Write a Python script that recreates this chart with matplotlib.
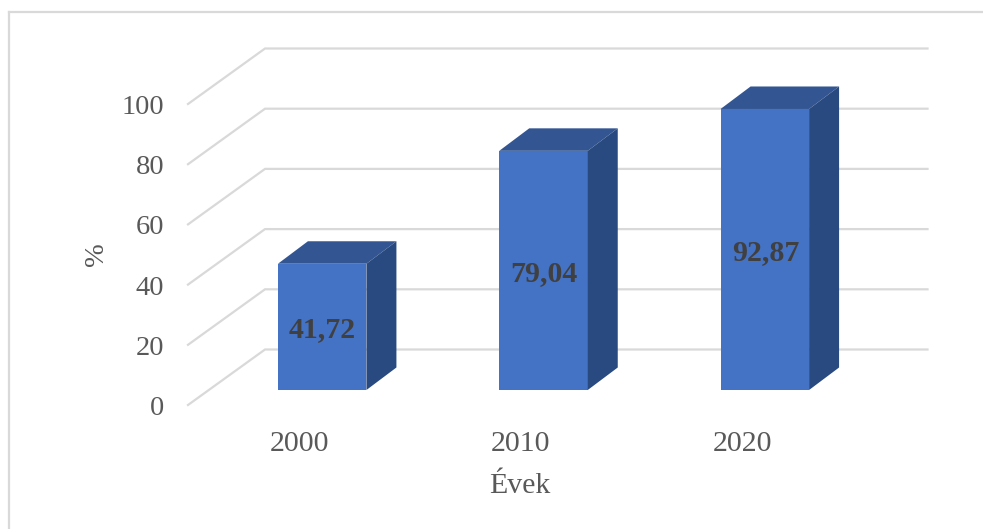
import matplotlib

matplotlib.use("Agg")
import matplotlib.pyplot as plt
from matplotlib.patches import Polygon, Rectangle
from matplotlib.transforms import ScaledTranslation

years = ["2000", "2010", "2020"]
values = [41.72, 79.04, 92.87]
value_labels = ["41,72", "79,04", "92,87"]
y_ticks = [0, 20, 40, 60, 80, 100]

W, H = 983, 529
FRONT = "#4472C4"
TOP = "#335693"
SIDE = "#294A80"
GRID = "#D9D9D9"
TEXT = "#595959"

plt.rcParams["font.family"] = ["Liberation Serif", "DejaVu Serif"]

fig = plt.figure(figsize=(W / 100, H / 100), dpi=100)

# outer frame of the chart, only top and left show in the picture
fig.add_artist(plt.Line2D([9 / W, 9 / W], [0, 1 - 12 / H], color=GRID, lw=1.6))
fig.add_artist(plt.Line2D([9 / W, 1], [1 - 12 / H, 1 - 12 / H], color=GRID, lw=1.6))

# axes = front plane of the fake 3d box
left, right, top, bottom = 188, 852, 104, 405
ax = fig.add_axes([left / W, 1 - bottom / H, (right - left) / W, (bottom - top) / H])
ax.set_xlim(-0.5, 2.5)
ax.set_ylim(0, 100)
ax.patch.set_visible(False)
for s in ax.spines.values():
    s.set_visible(False)

px_x = 3 / (right - left)  # data units per pixel
px_y = 100 / (bottom - top)

# walls
wall_dx = 77 * px_x
wall_dy = 55.5 * px_y
for t in y_ticks:
    ax.plot([-0.5, -0.5 + wall_dx, 2.5 + wall_dx - 1.5 * px_x], [t, t + wall_dy, t + wall_dy],
            color=GRID, lw=1.6, clip_on=False, zorder=1, solid_joinstyle="miter")

# bars
bar_w = 88.5 * px_x
shift_x = 23.5 * px_x
base = 15 * px_y
depth_x = 30 * px_x
depth_y = 22.5 * px_y
scale = 0.9 * 1.117  # bars stand on a plane a bit behind the front one
for i, v in enumerate(values):
    x0 = i + shift_x - bar_w / 2
    x1 = x0 + bar_w
    y0 = base
    y1 = base + v * scale
    ax.add_patch(Rectangle((x0, y0), bar_w, y1 - y0, fc=FRONT, ec="none", zorder=3, clip_on=False))
    ax.add_patch(Polygon([(x0, y1), (x1, y1), (x1 + depth_x, y1 + depth_y), (x0 + depth_x, y1 + depth_y)],
                         fc=TOP, ec="none", zorder=3, clip_on=False))
    ax.add_patch(Polygon([(x1, y0), (x1 + depth_x, y0 + depth_y), (x1 + depth_x, y1 + depth_y), (x1, y1)],
                         fc=SIDE, ec="none", zorder=3, clip_on=False))
    ax.text(i + shift_x + 0.5 * px_x, (y0 + y1) / 2 - 2.7 * px_y, value_labels[i], ha="center", va="center",
            fontsize=21.5, fontweight="bold", color="#404040", zorder=4)

ax.set_xticks(range(len(years)), years)
ax.set_yticks(y_ticks)
ax.tick_params(length=0, labelsize=20.5, labelcolor=TEXT)
ax.tick_params(axis="x", labelsize=21.5, pad=19)
ax.tick_params(axis="y", pad=17)
down = ScaledTranslation(0, -0.5 / 100, fig.dpi_scale_trans)
for lab in ax.get_yticklabels():
    lab.set_transform(lab.get_transform() + down)
nudge = ScaledTranslation(1 / 100, 0, fig.dpi_scale_trans)
for lab in ax.get_xticklabels():
    lab.set_transform(lab.get_transform() + nudge)
ax.set_xlabel("Évek", fontsize=21.5, color=TEXT, labelpad=11)
ax.set_ylabel("%", fontsize=20.5, color=TEXT, labelpad=9)

fig.savefig("out.png", dpi=100)
